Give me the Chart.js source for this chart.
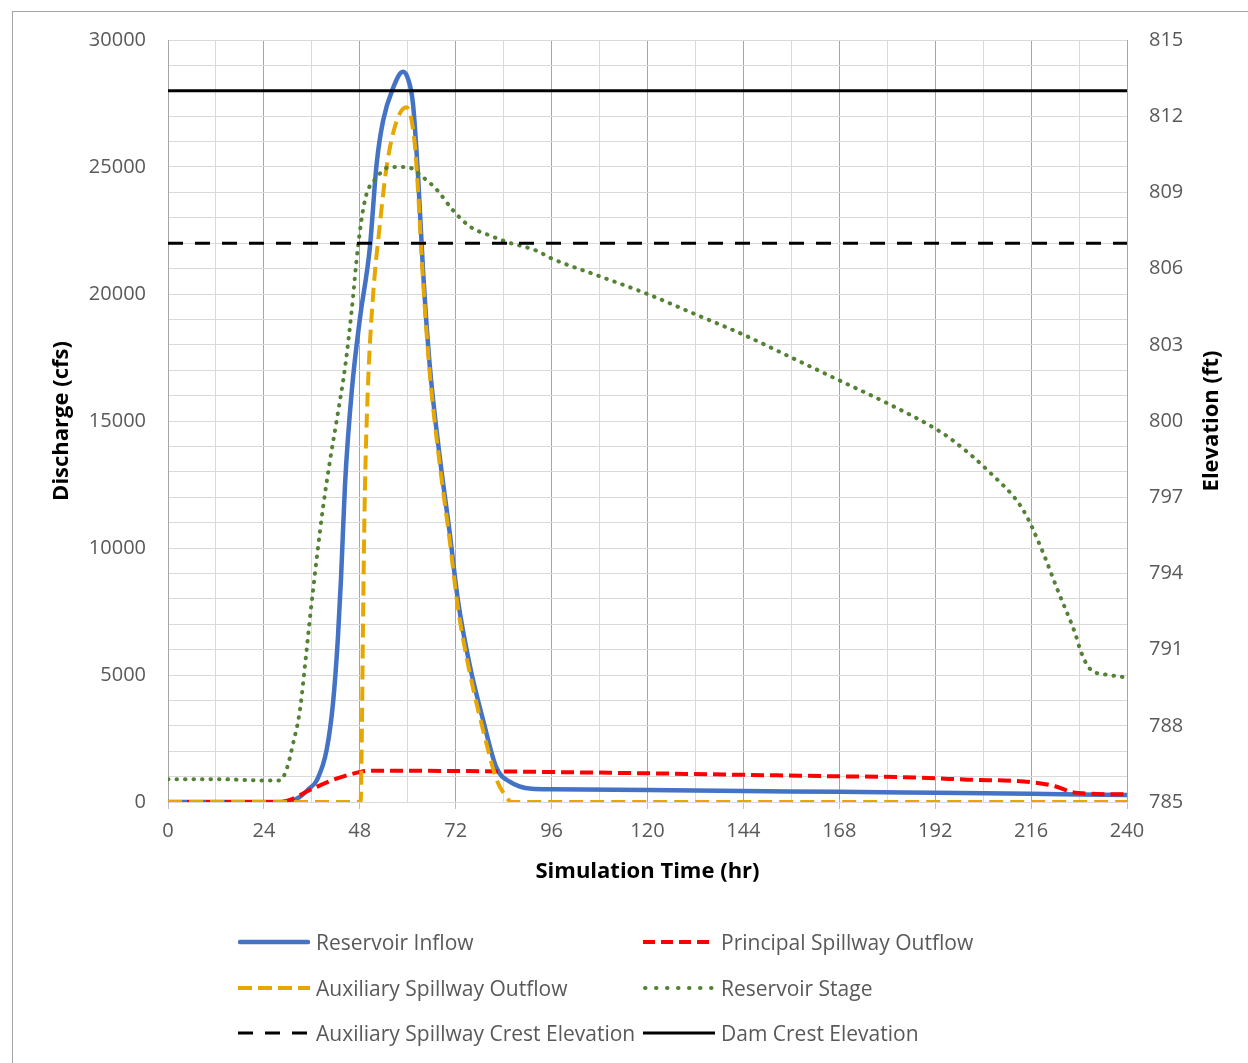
<!DOCTYPE html>
<html>
<head>
<meta charset="utf-8">
<title>Reservoir routing</title>
<script src="https://cdn.jsdelivr.net/npm/chart.js@4.4.1/dist/chart.umd.min.js"></script>
<style>
  html, body { margin: 0; padding: 0; background: #fff; }
  body { width: 1248px; height: 1063px; position: relative; overflow: hidden; font-family: "Open Sans", sans-serif; }
  #frame { position: absolute; left: 12px; top: 11px; width: 1300px; height: 1100px; border: 1px solid #a6a6a6; box-sizing: border-box; }
  #wrap { position: absolute; left: 0; top: 0; width: 1248px; height: 1063px; }
  #legend .item { position: absolute; display: flex; align-items: center; height: 30px; font-size: 21px; color: #595959; white-space: nowrap; }
  #legend .item svg { margin-right: 6px; }
</style>
</head>
<body>
<div id="frame"></div>
<div id="wrap"><canvas id="routingChart" width="1248" height="1063"></canvas></div>
<div id="legend"></div>
<script>
// -----------------------------
// Data read off the hydrograph
// -----------------------------
const inflowHr  = [0, 24, 28, 31, 33, 35, 37.3, 39.7, 41.3, 42.5, 43.3, 44.3, 46, 48, 50.5, 52.2, 53.8, 56.3, 58.8, 60, 61.3, 62.6, 63.8, 65.5, 68, 70.5, 72.6, 75.5, 78.9, 82.2, 85.5, 91, 96, 120, 144, 168, 192, 216, 240];
const inflowCfs = [0, 0, 0, 50, 200, 480, 870, 2050, 3900, 6400, 8800, 12500, 16200, 19000, 21800, 25100, 26800, 28100, 28750, 28500, 27500, 24600, 21000, 17200, 13600, 10600, 7900, 5400, 3200, 1350, 800, 520, 500, 470, 430, 400, 360, 320, 280];

const principalHr  = [0, 28, 30.5, 35.5, 41.3, 48, 50, 72, 96, 120, 144, 168, 183, 200, 216, 222, 226, 230, 240];
const principalCfs = [0, 0, 80, 470, 870, 1180, 1230, 1220, 1180, 1130, 1070, 1010, 980, 880, 780, 620, 400, 330, 300];

const auxHr  = [0, 48.2, 48.5, 48.8, 49.2, 50, 51.3, 53, 54.7, 57.2, 59.7, 61.7, 62.6, 63.8, 65.5, 68, 70.5, 72.6, 75.5, 78.9, 82.2, 84, 86, 240];
const auxCfs = [0, 0, 2500, 6900, 11600, 16200, 19900, 22700, 25000, 26800, 27350, 26000, 24000, 20600, 16900, 13300, 10300, 7600, 5100, 2800, 900, 350, 0, 0];

const stageHr = [0, 12, 24, 28, 29.7, 31.3, 33, 34.7, 35.5, 37.3, 38.8, 40.5, 42.5, 44.3, 46, 47.5, 49.3, 52.3, 55.6, 59.8, 63.8, 67.3, 71.3, 75.6, 80.6, 84.8, 92.3, 96, 108, 120, 132, 144, 156, 168, 180, 192, 196.7, 205.5, 214, 218.5, 223, 227, 228.5, 231, 235.5, 240];
const stageFt = [785.9, 785.9, 785.85, 785.85, 786.3, 787.3, 788.6, 791.0, 792.2, 794.7, 796.6, 798.4, 800.3, 802.1, 804.4, 806.8, 808.7, 809.6, 810.0, 810.0, 809.6, 809.1, 808.3, 807.65, 807.3, 807.05, 806.7, 806.4, 805.7, 805.0, 804.2, 803.4, 802.5, 801.6, 800.7, 799.7, 799.2, 798.0, 796.5, 795.0, 793.2, 791.65, 790.9, 790.2, 790.0, 789.9];

const auxCrestElev = 807;
const damCrestElev = 813;
const timeRange = [0, 240];

const seriesNames = [
  "Reservoir Inflow", "Principal Spillway Outflow",
  "Auxiliary Spillway Outflow", "Reservoir Stage",
  "Auxiliary Spillway Crest Elevation", "Dam Crest Elevation"
];

function pts(xs, ys) {
  return xs.map((x, i) => ({ x: x, y: ys[i] }));
}

// -----------------------------
// Series styling
// -----------------------------
const styles = [
  { color: "#4472C4", width: 4.5, dash: [],        cap: "round", axis: "y",  data: pts(inflowHr, inflowCfs) },
  { color: "#FF0000", width: 4,   dash: [13, 6],   cap: "butt",  axis: "y",  data: pts(principalHr, principalCfs) },
  { color: "#E6A800", width: 4,   dash: [14, 7],   cap: "butt",  axis: "y",  data: pts(auxHr, auxCfs) },
  { color: "#548235", width: 4,   dash: [0.5, 8],  cap: "round", axis: "y2", data: pts(stageHr, stageFt) },
  { color: "#000000", width: 3,   dash: [15, 12],  cap: "butt",  axis: "y2", data: pts(timeRange, [auxCrestElev, auxCrestElev]) },
  { color: "#000000", width: 3,   dash: [],        cap: "butt",  axis: "y2", data: pts(timeRange, [damCrestElev, damCrestElev]) }
];
const drawOrder = [6, 5, 4, 3, 2, 1];

const datasets = styles.map((s, i) => ({
  label: seriesNames[i],
  data: s.data,
  yAxisID: s.axis,
  borderColor: s.color,
  backgroundColor: s.color,
  borderWidth: s.width,
  borderDash: s.dash,
  borderCapStyle: s.cap,
  borderJoinStyle: "round",
  pointRadius: 0,
  fill: false,
  cubicInterpolationMode: "monotone",
  order: drawOrder[i]
}));

const tickFont = { family: "Open Sans", size: 20 };
const titleFont = { family: "Open Sans", size: 22, weight: "bold" };

// right-hand title reads bottom-to-top like the left one
const rightTitle = {
  id: "rightTitle",
  afterDraw(chart) {
    const { ctx, chartArea } = chart;
    ctx.save();
    ctx.translate(1212, (chartArea.top + chartArea.bottom) / 2);
    ctx.rotate(-Math.PI / 2);
    ctx.font = "bold 22px 'Open Sans'";
    ctx.fillStyle = "#000";
    ctx.textAlign = "center";
    ctx.textBaseline = "middle";
    ctx.fillText("Elevation (ft)", 0, 0);
    ctx.restore();
  }
};

new Chart(document.getElementById("routingChart"), {
  type: "line",
  data: { datasets },
  plugins: [rightTitle],
  options: {
    responsive: false,
    animation: false,
    layout: { padding: { left: 0, right: 0, top: 40, bottom: 171 } },
    plugins: { legend: { display: false }, tooltip: { enabled: false } },
    scales: {
      x: {
        type: "linear",
        min: 0, max: 240,
        afterFit: s => { s.height = 90; },
        ticks: {
          stepSize: 12, autoSkip: false, maxRotation: 0, padding: 10,
          font: tickFont, color: "#595959",
          callback: v => (v % 24 === 0 ? v : "")
        },
        grid: {
          color: c => (c.tick && c.tick.value % 24 === 0 ? "#A6A6A6" : "#D9D9D9"),
          tickColor: c => (c.tick && c.tick.value % 24 === 0 ? "#BFBFBF" : "rgba(0,0,0,0)"),
          tickLength: 7
        },
        border: { color: "#D9D9D9" },
        title: { display: true, text: "Simulation Time (hr)", font: titleFont, color: "#000", padding: { top: 0, bottom: 7 } }
      },
      y: {
        position: "left",
        min: 0, max: 30000,
        afterFit: s => { s.width = 168; },
        ticks: {
          stepSize: 1000, autoSkip: false, padding: 22,
          font: tickFont, color: "#595959",
          callback: v => (v % 5000 === 0 ? v : "")
        },
        grid: { color: "#D9D9D9", drawTicks: false },
        border: { color: "#A6A6A6" },
        title: { display: true, text: "Discharge (cfs)", font: titleFont, color: "#000", padding: { top: 49, bottom: 0 } }
      },
      y2: {
        position: "right",
        min: 785, max: 815,
        afterFit: s => { s.width = 121; },
        ticks: {
          stepSize: 1, autoSkip: false, padding: 22,
          font: tickFont, color: "#595959",
          callback: v => ((v - 785) % 3 === 0 ? v : "")
        },
        grid: { drawOnChartArea: false, drawTicks: false },
        border: { display: false }
      }
    }
  }
});

// -----------------------------
// Legend (two columns, three rows)
// -----------------------------
const legendCols = [238, 643];
const legendRows = [942, 988, 1033];
const legendDash = ["", "12 6", "14 6", "0.5 10.5", "15 12", ""];
const legend = document.getElementById("legend");
styles.forEach((s, i) => {
  const item = document.createElement("div");
  item.className = "item";
  item.style.left = legendCols[i % 2] + "px";
  item.style.top = (legendRows[Math.floor(i / 2)] - 15) + "px";
  const cap = s.cap === "round" ? "round" : "butt";
  item.innerHTML =
    '<svg width="72" height="10"><line x1="' + (cap === "round" ? 2 : 0) + '" y1="5" x2="' + (cap === "round" ? 70 : 72) +
    '" y2="5" stroke="' + s.color + '" stroke-width="' + s.width + '" stroke-dasharray="' + legendDash[i] +
    '" stroke-linecap="' + cap + '"/></svg><span>' + seriesNames[i] + "</span>";
  legend.appendChild(item);
});
</script>
</body>
</html>
